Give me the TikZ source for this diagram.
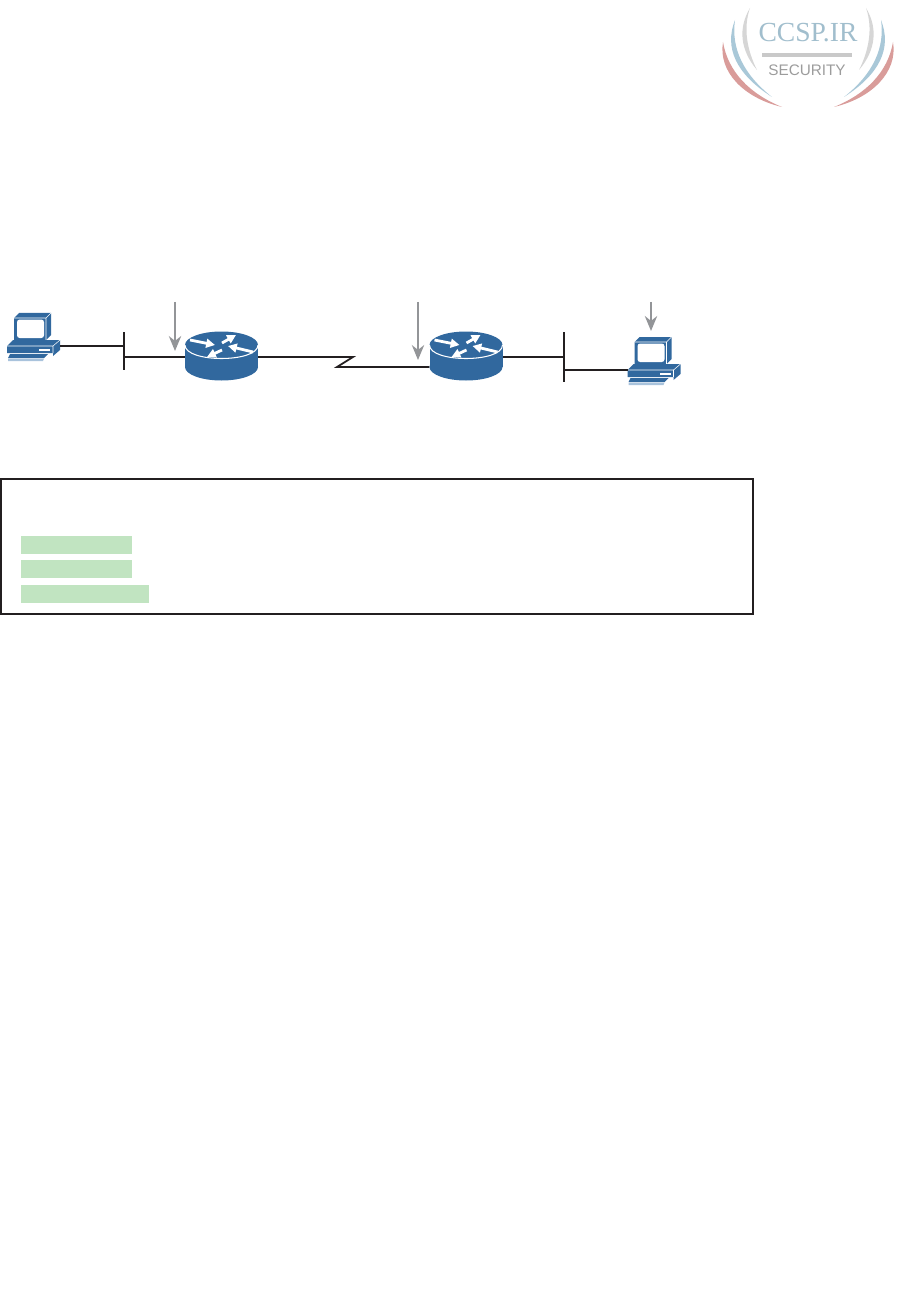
\documentclass[tikz,border=0pt]{standalone}
\usepackage{fontspec}
\setmainfont{Liberation Sans}
\newfontfamily\logoserif{Liberation Serif}
\usetikzlibrary{arrows.meta, positioning}
\definecolor{routerblue}{HTML}{31689E}
\definecolor{keylight}{HTML}{A9C3DC}
\definecolor{linkblack}{HTML}{231F20}
\definecolor{tagray}{HTML}{939598}
\definecolor{notegreen}{HTML}{C1E4C1}
\definecolor{logoblue}{HTML}{A9C8D8}
\definecolor{logored}{HTML}{D99C9A}
\definecolor{logogray}{HTML}{D6D6D6}
\definecolor{logotext}{HTML}{9C9C9C}

\begin{document}
\begin{tikzpicture}[
    x=0.02cm, y=-0.02cm,
    link/.style={line width=1pt, draw=linkblack},
    tagarrow/.style={line width=1.2pt, draw=tagray, -{Stealth[length=8.5pt, width=7pt]}},
    rtrbox/.style={minimum width=1.47cm, minimum height=0.98cm, inner sep=0pt, outer sep=0pt},
    pcbox/.style={minimum width=1.06cm, minimum height=0.32cm, inner sep=0pt, outer sep=0pt},
    busbar/.style={minimum width=0.95pt, inner sep=0pt, outer sep=0pt, fill=linkblack},
    notebar/.style={fill=notegreen, inner sep=0pt, outer sep=0pt, minimum height=0.36cm, anchor=north west},
    rtrarrow/.style={white, line width=1.6pt, -{Triangle[length=5pt, width=5pt]}},
    router/.pic={
        \fill[routerblue] (0,10) ellipse [x radius=36.5, y radius=13.5];
        \fill[routerblue] (-36.5,-12) rectangle (36.5,10);
        \fill[routerblue] (0,-12) ellipse [x radius=36.5, y radius=13.5];
        \draw[white, line width=0.6pt] (-36.5,-12) .. controls (-36.5,6) and (36.5,6) .. (36.5,-12);
        \draw[rtrarrow] (-31.5,-17) -- (-6.5,-12);
        \draw[rtrarrow] (0.5,-14) -- (14.5,-22);
        \draw[rtrarrow] (0.5,-7) -- (-14.5,0);
        \draw[rtrarrow] (31.5,-5) -- (6.5,-11);
    },
    computer/.pic={
        % monitor
        \fill[routerblue] (-19.5,-28) -- (-14.5,-33) -- (17.5,-33) -- (17.5,-11) -- (12.5,-6) -- (-19.5,-6) -- cycle;
        \draw[white, line width=0.3pt] (-19.5,-28) -- (12.5,-28) -- (17.5,-33) (12.5,-28) -- (12.5,-6);
        \fill[white, rounded corners=1.5pt] (-16.5,-26.5) rectangle (10.5,-8);
        % base
        \fill[routerblue] (-26.5,0) -- (-20.5,-6) -- (26.5,-6) -- (26.5,4) -- (19.5,10) -- (19.5,7) -- (-26.5,7) -- cycle;
        \draw[white, line width=0.3pt] (-26.5,0) -- (19.5,0) -- (26.5,-6) (19.5,0) -- (19.5,7);
        \fill[white] (5.5,3) rectangle (16.5,5);
        % keyboard
        \fill[routerblue] (-23.5,8) -- (14.5,8) -- (10.5,12) -- (-25.5,12) -- cycle;
        \fill[keylight] (-25.5,12.5) -- (10.5,12.5) -- (9.5,15) -- (-25.5,15) -- cycle;
    },
    crescents/.pic={
        \fill[logogray] (-58,8) .. controls (-70,28) and (-68,50) .. (-51,70) .. controls (-61,50) and (-65,28) .. (-58,8) -- cycle;
        \fill[logoblue] (-73,20) .. controls (-84,48) and (-72,74) .. (-36,97) .. controls (-65,74) and (-77,48) .. (-73,20) -- cycle;
        \fill[logored] (-85,42) .. controls (-90,72) and (-64,98) .. (-26,107) .. controls (-58,94) and (-80,72) .. (-85,42) -- cycle;
    },
]
    \useasboundingbox (0,0) rectangle (919,1314);

    % Logo
    \pic at (808,0) {crescents};
    \pic[xscale=-1] at (808,0) {crescents};
    \node[font=\logoserif\fontsize{15.7}{15.7}\selectfont, text=logoblue!95!black, inner sep=0pt] (logoname) at (808,33) {CCSP.IR};
    \node[minimum width=1.8cm, minimum height=2.6pt, inner sep=0pt, fill=logogray!85!gray] (logorule) at (807,55) {};
    \node[font=\fontsize{8.7}{8.7}\selectfont, text=logotext, inner sep=0pt] (logosub) at (807,70) {SECURITY};

    % Devices
    \node[pcbox] (pcA) at (33.5,346) {};
    \node[busbar, minimum height=38*0.02cm] (busA) at (124,351) {};
    \node[rtrbox] (rtrA) at (221.5,357) {};
    \node[rtrbox] (rtrB) at (466,357) {};
    \node[busbar, minimum height=50*0.02cm] (busB) at (564,357) {};
    \node[pcbox] (pcB) at (654,370) {};
    \pic at (pcA) {computer};
    \pic at (pcB) {computer};
    \pic at (rtrA) {router};
    \pic at (rtrB) {router};

    % Links
    \coordinate (zigA) at (353,357);
    \coordinate (zigB) at (337,367);
    \draw[link] (pcA.east) -- (pcA.east -| busA.west);
    \draw[link] (rtrA.west -| busA.east) -- (rtrA.west);
    \draw[link] (rtrA.east) -- (zigA) -- (zigB) -- (zigB -| rtrB.west);
    \draw[link] (rtrB.east) -- (rtrB.east -| busB.west);
    \draw[link] (pcB.west -| busB.east) -- (pcB.west);

    % Tags
    \coordinate (tagA) at (175,302);
    \coordinate (tipA) at (175,351);
    \coordinate (tagB) at (418,302);
    \coordinate (tipB) at (418,360);
    \coordinate (tagC) at (651,302);
    \coordinate (tipC) at (651,331);
    \draw[tagarrow] (tagA) -- (tipA);
    \draw[tagarrow] (tagB) -- (tipB);
    \draw[tagarrow] (tagC) -- (tipC);

    % Notes
    \node[draw=linkblack, line width=1.15pt, minimum width=752*0.02cm, minimum height=135*0.02cm, inner sep=0pt, anchor=north west] (notes) at (0,477.5) {};
    \node[notebar, minimum width=111*0.02cm] (noteA) at (21,536) {};
    \node[notebar, minimum width=111*0.02cm] (noteB) at (21,560) {};
    \node[notebar, minimum width=128*0.02cm] (noteC) at (21,585) {};
\end{tikzpicture}
\end{document}
